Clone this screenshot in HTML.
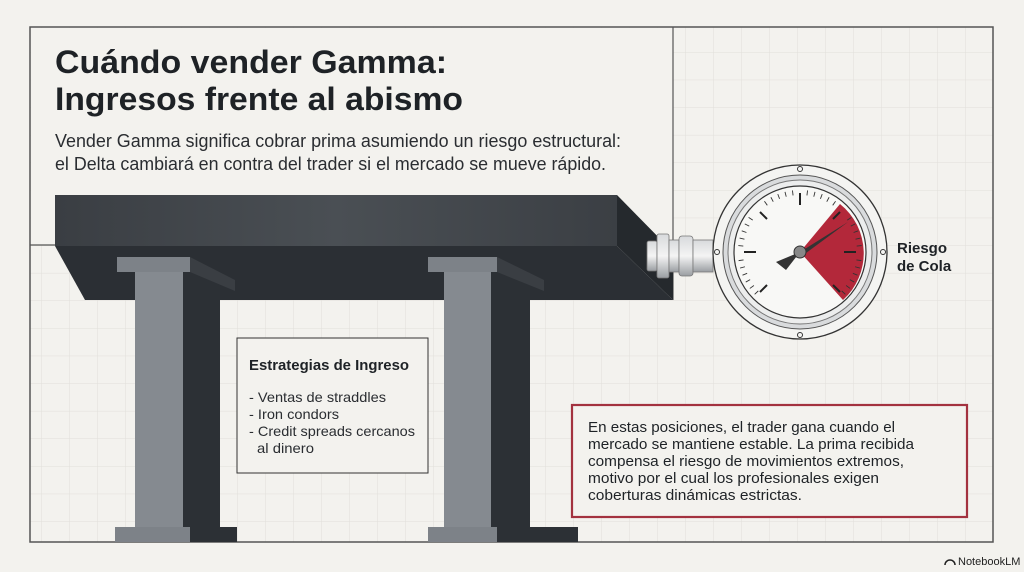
<!DOCTYPE html>
<html><head><meta charset="utf-8"><style>
html,body{margin:0;padding:0;background:#f3f2ee;}
svg{display:block;font-family:"Liberation Sans",sans-serif;}
</style></head><body>
<svg width="1024" height="572" viewBox="0 0 1024 572" xmlns="http://www.w3.org/2000/svg">
<defs>
<pattern id="g" x="13.5" y="24.5" width="28" height="27.6" patternUnits="userSpaceOnUse">
<path d="M0 0H28M0 0V27.6" stroke="#e0dfda" stroke-width="1" fill="none"/>
</pattern>
<linearGradient id="slab" x1="0" x2="1"><stop offset="0" stop-color="#3a3e43"/><stop offset="0.5" stop-color="#4a4f54"/><stop offset="1" stop-color="#3b3f44"/></linearGradient>
<linearGradient id="metal" x1="0" y1="0" x2="0" y2="1"><stop offset="0" stop-color="#d8dadc"/><stop offset="0.5" stop-color="#f4f4f4"/><stop offset="1" stop-color="#9a9ea2"/></linearGradient>
</defs>
<rect width="1024" height="572" fill="#f3f2ee"/>
<rect x="30" y="27" width="963" height="515" fill="url(#g)"/>
<rect x="31" y="28" width="642" height="217" fill="#f3f2ee"/>
<rect x="30" y="27" width="963" height="515" fill="none" stroke="#555" stroke-width="1.5"/>
<line x1="673" y1="27" x2="673" y2="300" stroke="#555" stroke-width="1.2"/>
<line x1="30" y1="245" x2="60" y2="245" stroke="#555" stroke-width="1.2"/>

<text x="55" y="73" font-size="32" font-weight="bold" fill="#1e2226" textLength="392" lengthAdjust="spacingAndGlyphs">Cuándo vender Gamma:</text>
<text x="55" y="110" font-size="32" font-weight="bold" fill="#1e2226" textLength="408" lengthAdjust="spacingAndGlyphs">Ingresos frente al abismo</text>
<text x="55" y="147" font-size="18" fill="#2a2d31" textLength="566" lengthAdjust="spacingAndGlyphs">Vender Gamma significa cobrar prima asumiendo un riesgo estructural:</text>
<text x="55" y="170" font-size="18" fill="#2a2d31" textLength="551" lengthAdjust="spacingAndGlyphs">el Delta cambiará en contra del trader si el mercado se mueve rápido.</text>

<!-- slab -->
<polygon points="55,246 617,246 673,300 85,300" fill="#2b2f34"/>
<polygon points="617,195 673,252 673,300 617,246" fill="#25292d"/>
<rect x="55" y="195" width="562" height="51" fill="url(#slab)"/>

<!-- pillar 1 -->
<rect x="135" y="272" width="48" height="257" fill="#858a90"/>
<rect x="183" y="272" width="37" height="257" fill="#2c3035"/>
<polygon points="190,257 235,280 235,291 190,272" fill="#3a3e43"/>
<rect x="117" y="257" width="73" height="15" fill="#7d8288"/>
<rect x="115" y="527" width="75" height="15" fill="#7d8288"/>
<rect x="190" y="527" width="47" height="15" fill="#2c3035"/>
<!-- pillar 2 -->
<rect x="444" y="272" width="47" height="257" fill="#858a90"/>
<rect x="491" y="272" width="39" height="257" fill="#2c3035"/>
<polygon points="497,257 544,280 544,291 497,272" fill="#3a3e43"/>
<rect x="428" y="257" width="69" height="15" fill="#7d8288"/>
<rect x="428" y="527" width="69" height="15" fill="#7d8288"/>
<rect x="497" y="527" width="81" height="15" fill="#2c3035"/>

<!-- box 1 -->
<rect x="237" y="338" width="191" height="135" fill="#f3f2ee" stroke="#333" stroke-width="1"/>
<text x="249" y="370" font-size="15" font-weight="bold" fill="#1e2226" textLength="160" lengthAdjust="spacingAndGlyphs">Estrategias de Ingreso</text>
<g font-size="14" fill="#2a2d31">
<text x="249" y="402" textLength="137" lengthAdjust="spacingAndGlyphs">- Ventas de straddles</text>
<text x="249" y="419" textLength="90" lengthAdjust="spacingAndGlyphs">- Iron condors</text>
<text x="249" y="436" textLength="166" lengthAdjust="spacingAndGlyphs">- Credit spreads cercanos</text>
<text x="257" y="453" textLength="57" lengthAdjust="spacingAndGlyphs">al dinero</text>
</g>

<!-- box 2 -->
<rect x="572" y="405" width="395" height="112" fill="#f3f2ee" stroke="#a3323f" stroke-width="2.2"/>
<g font-size="15" fill="#1e2226">
<text x="588" y="432" textLength="307" lengthAdjust="spacingAndGlyphs">En estas posiciones, el trader gana cuando el</text>
<text x="588" y="449" textLength="326" lengthAdjust="spacingAndGlyphs">mercado se mantiene estable. La prima recibida</text>
<text x="588" y="466" textLength="316" lengthAdjust="spacingAndGlyphs">compensa el riesgo de movimientos extremos,</text>
<text x="588" y="483" textLength="291" lengthAdjust="spacingAndGlyphs">motivo por el cual los profesionales exigen</text>
<text x="588" y="500" textLength="214" lengthAdjust="spacingAndGlyphs">coberturas dinámicas estrictas.</text>
</g>

<!-- connector -->
<rect x="647" y="241" width="10" height="30" rx="2" fill="url(#metal)" stroke="#777" stroke-width="0.8"/>
<rect x="657" y="234" width="12" height="44" rx="2" fill="url(#metal)" stroke="#777" stroke-width="0.8"/>
<rect x="669" y="240" width="10" height="32" fill="url(#metal)" stroke="#777" stroke-width="0.8"/>
<rect x="679" y="236" width="14" height="40" rx="3" fill="url(#metal)" stroke="#777" stroke-width="0.8"/>
<rect x="693" y="240" width="20" height="32" fill="url(#metal)" stroke="#777" stroke-width="0.8"/>

<!-- gauge -->
<circle cx="800" cy="252" r="87" fill="#f4f4f2" stroke="#333" stroke-width="1.3"/>
<circle cx="800" cy="252" r="77" fill="#d9dbdd" stroke="#555" stroke-width="1"/>
<circle cx="800" cy="252" r="72" fill="#eceded" stroke="#777" stroke-width="1"/>
<circle cx="800" cy="252" r="66" fill="#f8f8f6" stroke="#333" stroke-width="1.2"/>
<path d="M800 252 L840 204 A63 63 0 0 1 843 300 Z" fill="#b3283a"/>
<g stroke="#333" stroke-width="0.9">
<line x1="800" y1="190" x2="800" y2="195" transform="rotate(-133 800 252)"/>
<line x1="800" y1="190" x2="800" y2="195" transform="rotate(-126 800 252)"/>
<line x1="800" y1="190" x2="800" y2="195" transform="rotate(-119 800 252)"/>
<line x1="800" y1="190" x2="800" y2="195" transform="rotate(-112 800 252)"/>
<line x1="800" y1="190" x2="800" y2="195" transform="rotate(-105 800 252)"/>
<line x1="800" y1="190" x2="800" y2="195" transform="rotate(-98 800 252)"/>
<line x1="800" y1="190" x2="800" y2="195" transform="rotate(-84 800 252)"/>
<line x1="800" y1="190" x2="800" y2="195" transform="rotate(-77 800 252)"/>
<line x1="800" y1="190" x2="800" y2="195" transform="rotate(-70 800 252)"/>
<line x1="800" y1="190" x2="800" y2="195" transform="rotate(-63 800 252)"/>
<line x1="800" y1="190" x2="800" y2="195" transform="rotate(-56 800 252)"/>
<line x1="800" y1="190" x2="800" y2="195" transform="rotate(-35 800 252)"/>
<line x1="800" y1="190" x2="800" y2="195" transform="rotate(-28 800 252)"/>
<line x1="800" y1="190" x2="800" y2="195" transform="rotate(-21 800 252)"/>
<line x1="800" y1="190" x2="800" y2="195" transform="rotate(-14 800 252)"/>
<line x1="800" y1="190" x2="800" y2="195" transform="rotate(-7 800 252)"/>
<line x1="800" y1="190" x2="800" y2="195" transform="rotate(7 800 252)"/>
<line x1="800" y1="190" x2="800" y2="195" transform="rotate(14 800 252)"/>
<line x1="800" y1="190" x2="800" y2="195" transform="rotate(21 800 252)"/>
<line x1="800" y1="190" x2="800" y2="195" transform="rotate(28 800 252)"/>
<line x1="800" y1="190" x2="800" y2="195" transform="rotate(35 800 252)"/>
<line x1="800" y1="190" x2="800" y2="195" transform="rotate(56 800 252)"/>
<line x1="800" y1="190" x2="800" y2="195" transform="rotate(63 800 252)"/>
<line x1="800" y1="190" x2="800" y2="195" transform="rotate(70 800 252)"/>
<line x1="800" y1="190" x2="800" y2="195" transform="rotate(77 800 252)"/>
<line x1="800" y1="190" x2="800" y2="195" transform="rotate(84 800 252)"/>
<line x1="800" y1="190" x2="800" y2="195" transform="rotate(98 800 252)"/>
<line x1="800" y1="190" x2="800" y2="195" transform="rotate(105 800 252)"/>
<line x1="800" y1="190" x2="800" y2="195" transform="rotate(112 800 252)"/>
<line x1="800" y1="190" x2="800" y2="195" transform="rotate(119 800 252)"/>
<line x1="800" y1="190" x2="800" y2="195" transform="rotate(126 800 252)"/>
<line x1="800" y1="190" x2="800" y2="195" transform="rotate(133 800 252)"/>
</g>
<g stroke="#222" stroke-width="2">
<line x1="800" y1="193" x2="800" y2="205"/>
<line x1="744" y1="252" x2="756" y2="252"/>
<line x1="844" y1="252" x2="856" y2="252"/>
<line x1="760" y1="212" x2="767" y2="219"/>
<line x1="760" y1="292" x2="767" y2="285"/>
<line x1="840" y1="212" x2="833" y2="219"/>
<line x1="840" y1="292" x2="833" y2="285"/>
</g>
<path d="M800 252 L848 222 L802 256 Z" fill="#333"/>
<path d="M800 252 L776 262 L786 270 Z" fill="#333"/>
<circle cx="800" cy="252" r="6" fill="#888" stroke="#333"/>
<circle cx="800" cy="169" r="2.5" fill="none" stroke="#333"/>
<circle cx="800" cy="335" r="2.5" fill="none" stroke="#333"/>
<circle cx="717" cy="252" r="2.5" fill="none" stroke="#333"/>
<circle cx="883" cy="252" r="2.5" fill="none" stroke="#333"/>
<text x="897" y="253" font-size="15" font-weight="bold" fill="#1e2226">Riesgo</text>
<text x="897" y="271" font-size="15" font-weight="bold" fill="#1e2226">de Cola</text>

<text x="958" y="565" font-size="11" fill="#222">NotebookLM</text>
<path d="M945 565 a5 5 0 0 1 10 0" fill="none" stroke="#222" stroke-width="1.5"/>
</svg>
</body></html>
